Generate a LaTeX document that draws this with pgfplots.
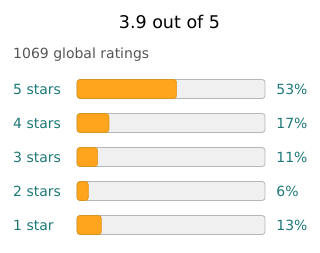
\documentclass[border=0pt]{standalone}
\usepackage{pgfplots}
\pgfplotsset{compat=1.18}
\usepackage{fontspec}
\setmainfont{DejaVu Sans}
\definecolor{barorange}{HTML}{FFA41C}
\definecolor{orangeedge}{HTML}{D9961E}
\definecolor{bgfill}{HTML}{F0F0F0}
\definecolor{bgedge}{HTML}{B4B6B8}
\definecolor{tealtxt}{HTML}{1F7878}
\definecolor{graytxt}{HTML}{555555}
\begin{document}
\begin{tikzpicture}[font=\fontsize{14pt}{16pt}\selectfont]
\begin{axis}[
  name=ax,
  scale only axis,
  width=188pt, height=170pt,
  xmin=0, xmax=100,
  ymin=0.5, ymax=5.5,
  axis line style={draw=none},
  xtick=\empty,
  ytick={1,2,3,4,5},
  yticklabels={1 star,2 stars,3 stars,4 stars,5 stars},
  major tick length=0pt,
  yticklabel style={anchor=west, inner sep=0pt, xshift=-64pt, text=tealtxt},
  xbar, bar shift=0pt, bar width=19pt,
  clip=false,
  /pgf/number format/assume math mode=true,
]
\addplot[fill=bgfill, draw=bgedge, line width=0.8pt, rounded corners=3pt,
  point meta=explicit symbolic,
  nodes near coords,
  nodes near coords style={anchor=west, inner sep=0pt, xshift=11pt, text=tealtxt, font=\fontsize{14pt}{16pt}\selectfont}]
  coordinates {(100,5) [53\%] (100,4) [17\%] (100,3) [11\%] (100,2) [6\%] (100,1) [13\%]};
\addplot[fill=barorange, draw=orangeedge, line width=0.6pt, rounded corners=3pt]
  coordinates {(53,5) (17,4) (11,3) (6,2) (13,1)};
\end{axis}
\path[use as bounding box] ([xshift=-77pt,yshift=-10pt]ax.south west) rectangle ([xshift=55pt,yshift=72pt]ax.north east);
\node[anchor=base, font=\fontsize{17.5pt}{20pt}\selectfont] at ([xshift=92.5pt,yshift=44pt]ax.north west) {3.9 out of 5};
\node[anchor=base west, inner sep=0pt, text=graytxt] at ([xshift=-64pt,yshift=14pt]ax.north west) {1069 global ratings};
\end{tikzpicture}
\end{document}
